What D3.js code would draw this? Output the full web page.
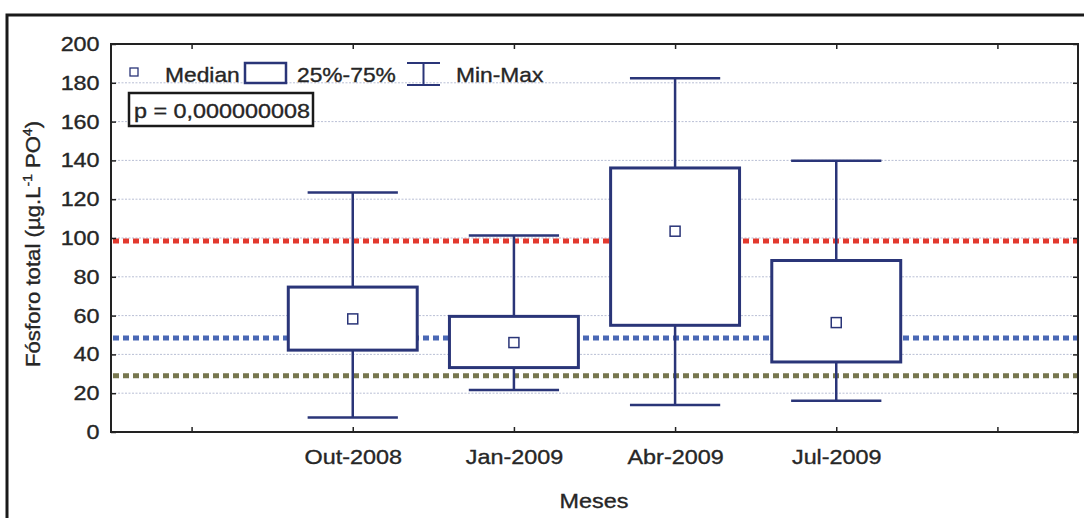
<!DOCTYPE html>
<html><head><meta charset="utf-8">
<script src="https://cdn.jsdelivr.net/npm/d3@7"></script>
<style>
html,body{margin:0;padding:0;background:#fff;}
svg{display:block;}
text{font-family:Arial,"Liberation Sans",sans-serif;fill:#262626;}
</style></head>
<body>
<svg id="chart" width="1084" height="518"></svg>
<script>
// ---- data ----
const categories = ["Out-2008", "Jan-2009", "Abr-2009", "Jul-2009"];
const mins    = [7.5, 21.6, 13.9, 16.1];
const q1s     = [42.2, 33.2, 55.0, 36.1];
const medians = [58.3, 46.1, 103.5, 56.4];
const q3s     = [74.7, 59.6, 136.1, 88.4];
const maxs    = [123.5, 101.3, 182.4, 139.8];
const yTicks  = [0, 20, 40, 60, 80, 100, 120, 140, 160, 180, 200];
const refValues = [98.5, 48.5, 29];
const refColors = ["#e2392e", "#4a68b5", "#77774f"];
const pText = "p = 0,000000008";

// ---- layout ----
const svg = d3.select("#chart");
const L = 111, R = 1078, T = 44, B = 432;
const navy = "#2a3578";
const SX = 1.14; // horizontal stretch of glyphs
const FONT = "Arial, 'Liberation Sans', sans-serif";

function label(x0, y0, s, size, anchor, rot) {
  const t = svg.append("text")
    .attr("transform", `translate(${x0},${y0})` + (rot ? ` rotate(${rot})` : "") + ` scale(${SX},1)`)
    .attr("text-anchor", anchor || "start").attr("font-size", size)
    .attr("stroke", "#262626").attr("stroke-width", 0.35);
  if (s !== null) t.text(s);
  return t;
}

// outer frame
svg.append("rect").attr("x", 7).attr("y", 15).attr("width", 1090).attr("height", 520)
  .attr("fill", "none").attr("stroke", "#1a1a1a").attr("stroke-width", 3);

const xDomain = ["", ...categories, " "];
const x = d3.scalePoint().domain(xDomain).range([L, R]).padding(0.5);
const y = d3.scaleLinear().domain([0, 200]).range([B, T]);
const step = x.step();

// gridlines
svg.append("g").selectAll("line").data(yTicks.filter(v => v > 0 && v < 200)).join("line")
  .attr("x1", L).attr("x2", R).attr("y1", d => y(d)).attr("y2", d => y(d))
  .attr("stroke", "#a3abc8").attr("stroke-width", 1).attr("stroke-dasharray", "2,1.5").attr("opacity", 0.75);

// reference lines
svg.append("g").selectAll("line").data(refValues).join("line")
  .attr("x1", L + 2).attr("x2", R - 1).attr("y1", d => y(d)).attr("y2", d => y(d))
  .attr("stroke", (d, i) => refColors[i]).attr("stroke-width", 5).attr("stroke-dasharray", "6,4");

// axes
const yAxisL = d3.axisLeft(y).tickValues(yTicks).tickSize(-5).tickPadding(10).tickFormat(d3.format("d"));
const gL = svg.append("g").attr("transform", `translate(${L},0)`).call(yAxisL);
const yAxisR = d3.axisRight(y).tickValues(yTicks).tickSize(-5).tickFormat("");
const gR = svg.append("g").attr("transform", `translate(${R},0)`).call(yAxisR);
const xAxisB = d3.axisBottom(x).tickSize(-5).tickPadding(17);
const gB = svg.append("g").attr("transform", `translate(0,${B})`).call(xAxisB);
const xAxisT = d3.axisTop(x).tickSize(-5).tickFormat("");
const gT = svg.append("g").attr("transform", `translate(0,${T})`).call(xAxisT);

[gL, gR, gB, gT].forEach(g => {
  g.select(".domain").remove();
  g.selectAll(".tick line").attr("stroke", "#222").attr("stroke-width", 1.5);
});
[gL, gB].forEach(g => g.selectAll("text")
  .attr("font-size", 20.5).attr("fill", "#262626").attr("font-family", FONT)
  .attr("stroke", "#262626").attr("stroke-width", 0.35)
  .attr("transform", `scale(${SX},1)`));

// plot frame
svg.append("rect").attr("x", L).attr("y", T).attr("width", R - L).attr("height", B - T)
  .attr("fill", "none").attr("stroke", "#222").attr("stroke-width", 2);

// boxes
const boxW = step * 0.8, capW = step * 0.56, medS = 10;
const gBox = svg.append("g");
categories.forEach((c, i) => {
  const cx = x(c);
  const g = gBox.append("g");
  g.append("line").attr("x1", cx).attr("x2", cx).attr("y1", y(maxs[i])).attr("y2", y(q3s[i]))
    .attr("stroke", navy).attr("stroke-width", 2.5);
  g.append("line").attr("x1", cx).attr("x2", cx).attr("y1", y(q1s[i])).attr("y2", y(mins[i]))
    .attr("stroke", navy).attr("stroke-width", 2.5);
  g.append("line").attr("x1", cx - capW / 2).attr("x2", cx + capW / 2).attr("y1", y(maxs[i])).attr("y2", y(maxs[i]))
    .attr("stroke", navy).attr("stroke-width", 2.5);
  g.append("line").attr("x1", cx - capW / 2).attr("x2", cx + capW / 2).attr("y1", y(mins[i])).attr("y2", y(mins[i]))
    .attr("stroke", navy).attr("stroke-width", 2.5);
  g.append("rect").attr("x", cx - boxW / 2).attr("y", y(q3s[i])).attr("width", boxW).attr("height", y(q1s[i]) - y(q3s[i]))
    .attr("fill", "#fff").attr("stroke", navy).attr("stroke-width", 3);
  g.append("rect").attr("x", cx - medS / 2).attr("y", y(medians[i]) - medS / 2).attr("width", medS).attr("height", medS)
    .attr("fill", "#fff").attr("stroke", navy).attr("stroke-width", 1.5);
});

// axis titles
label(594, 508, "Meses", 20.5, "middle");
const yl = label(40, 244, null, 19.5, "middle", -90);
yl.append("tspan").text("Fósforo total (µg.L");
yl.append("tspan").attr("font-size", 12).attr("dy", -8).text("-1");
yl.append("tspan").attr("dy", 8).text(" PO");
yl.append("tspan").attr("font-size", 12).attr("dy", -8).text("4");
yl.append("tspan").attr("dy", 8).text(")");

// legend
svg.append("rect").attr("x", 130).attr("y", 68).attr("width", 8).attr("height", 8)
  .attr("fill", "#fff").attr("stroke", navy).attr("stroke-width", 1.3);
label(165, 82, "Median", 20);
svg.append("rect").attr("x", 245).attr("y", 63).attr("width", 41).attr("height", 20)
  .attr("fill", "#fff").attr("stroke", navy).attr("stroke-width", 2.5);
label(297, 82, "25%-75%", 20);
svg.append("line").attr("x1", 407).attr("x2", 440).attr("y1", 63).attr("y2", 63).attr("stroke", navy).attr("stroke-width", 2);
svg.append("line").attr("x1", 423.5).attr("x2", 423.5).attr("y1", 63).attr("y2", 85).attr("stroke", navy).attr("stroke-width", 2);
svg.append("line").attr("x1", 407).attr("x2", 440).attr("y1", 85).attr("y2", 85).attr("stroke", navy).attr("stroke-width", 2);
label(456, 82, "Min-Max", 20);

// p-value box
svg.append("rect").attr("x", 129).attr("y", 93).attr("width", 184).attr("height", 33)
  .attr("fill", "#fff").attr("stroke", "#1a1a1a").attr("stroke-width", 2.5);
label(134, 118, pText, 20.5);
</script>
</body></html>
